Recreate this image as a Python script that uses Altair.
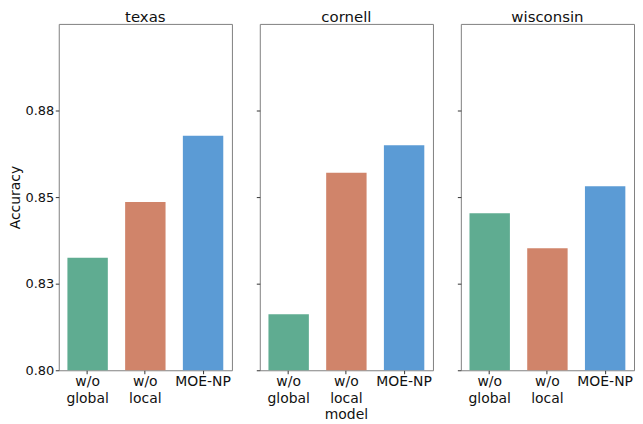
import altair as alt
import pandas as pd

datasets = ["texas", "cornell", "wisconsin"]
methods = {
    "texas": ["w/o global", "w/o local", "MOE-NP"],
    "cornell": ["w/o global", "w/o local model", "MOE-NP"],
    "wisconsin": ["w/o global", "w/o local", "MOE-NP"],
}
kinds = ["global", "local", "full"]
accuracy = {
    "texas": [0.8325, 0.8486, 0.8677],
    "cornell": [0.8162, 0.8570, 0.8650],
    "wisconsin": [0.8453, 0.8352, 0.8531],
}
colors = ["#5fac91", "#d0846a", "#5b9bd5"]
tick_values = [0.800, 0.825, 0.850, 0.875]
tick_labels = ["0.80", "0.83", "0.85", "0.88"]

rows = []
for ds in datasets:
    for m, k, a in zip(methods[ds], kinds, accuracy[ds]):
        rows.append({"dataset": ds, "method": m, "kind": k, "accuracy": a})
df = pd.DataFrame(rows)

label_expr = "''"
for v, l in reversed(list(zip(tick_values, tick_labels))):
    label_expr = f"abs(datum.value - {v}) < 0.001 ? '{l}' : ({label_expr})"

FONT = "DejaVu Sans"
charts = []
for i, ds in enumerate(datasets):
    sub = df[df["dataset"] == ds]
    yaxis_kwargs = dict(
        values=tick_values,
        labelExpr=label_expr,
        labels=(i == 0),
        tickSize=3.5,
        labelPadding=1.5,
        labelFontSize=13,
        domain=False,
        grid=False,
    )
    if i == 0:
        yaxis_kwargs.update(title="Accuracy", titleFontSize=14, titlePadding=2,
                            titleFontWeight="normal")
    else:
        yaxis_kwargs.update(title="")
    c = alt.Chart(sub).mark_bar(clip=True).encode(
        x=alt.X(
            "method:N",
            sort=methods[ds],
            scale=alt.Scale(paddingInner=0.3, paddingOuter=0.15),
            axis=alt.Axis(
                title="",
                labelAngle=0,
                labelExpr="split(datum.label, ' ')",
                labelFontSize=14,
                labelLineHeight=16.5,
                tickSize=3.5,
                labelPadding=1,
                domain=False,
                grid=False,
            ),
        ),
        y=alt.Y(
            "accuracy:Q",
            scale=alt.Scale(domain=[0.8, 0.9], zero=False, nice=False),
            axis=alt.Axis(**yaxis_kwargs),
        ),
        color=alt.Color("kind:N", scale=alt.Scale(domain=kinds, range=colors), legend=None),
    ).properties(
        width=174,
        height=348,
        title=alt.TitleParams(ds, fontSize=15, fontWeight="normal", font=FONT, offset=-1, color="#111"),
    )
    charts.append(c)

chart = alt.hconcat(*charts, spacing=22).properties(padding=0).configure_view(
    stroke="#808080", strokeWidth=1
).configure_axis(
    labelFont=FONT, titleFont=FONT, labelColor="#111", titleColor="#111", tickColor="#333"
)

chart.save("out.html", embed_options={"renderer": "svg", "actions": False})
